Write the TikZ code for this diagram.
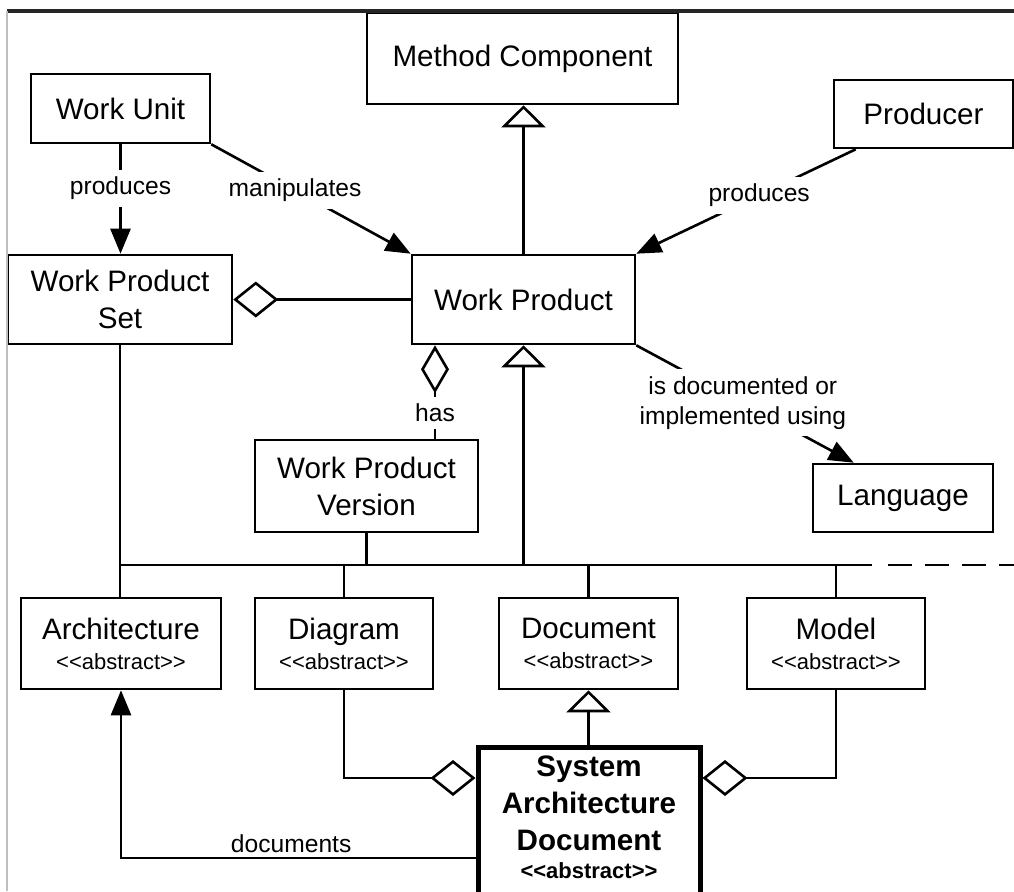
\documentclass[tikz,border=0pt]{standalone}
\usepackage{fontspec}
\setmainfont{Liberation Sans}
\usepackage{tikz}
\usetikzlibrary{positioning}
\usetikzlibrary{arrows.meta}
\tikzstyle{block} = [rectangle, draw, line width=1.3pt, fill=white, align=center,
inner sep=0pt, font=\fontsize{14.8}{18.5}\selectfont]
\tikzstyle{line} = [draw, line width=1.3pt]
\tikzstyle{arr} = [line, -{Triangle[length=12.5pt, width=10pt]}]
\tikzstyle{gen} = [line, -{Triangle[open, length=11pt, width=22pt]}]
\tikzstyle{agg} = [line, -{Diamond[open, length=22.5pt, width=18pt]}]
\tikzstyle{lbl} = [fill=white, inner sep=3.5pt, align=center, font=\fontsize{12.3}{15}\selectfont]
\newcommand{\abst}{{\fontsize{11}{13}\selectfont <{}<abstract>{}>}}

\begin{document}
\begin{tikzpicture}[x=0.5pt, y=-0.5pt]
	\useasboundingbox (0,0) rectangle (1014,891);
	\clip (0,0) rectangle (1014,891);
	
	% Place nodes
	\node [block, minimum width=155.5pt, minimum height=45.5pt] (mc) at (522.5,58.5) {Method Component};
	\node [block, minimum width=89.5pt, minimum height=34.5pt] (wu) at (120.5,108.5) {Work Unit};
	\node [block, minimum width=89.5pt, minimum height=34pt] (prod) at (923.5,114) {Producer};
	\node [block, minimum width=112pt, minimum height=44.5pt] (wps) at (120,299.5) {Work Product\\Set};
	\node [block, minimum width=111.5pt, minimum height=44.5pt, right=88.7pt of wps] (wp) {Work Product};
	\node [block, minimum width=111.5pt, minimum height=46pt] (wpv) at (366.5,486) {Work Product\\Version};
	\node [block, minimum width=90pt, minimum height=34pt] (lang) at (903,498) {Language};
	\node [block, minimum width=100pt, minimum height=45.5pt] (arch) at (121,643.5) {Architecture\\[-3.5pt]\abst};
	\node [block, minimum width=89pt, minimum height=45.5pt, right=15.7pt of arch] (dia) {Diagram\\[-3.5pt]\abst};
	\node [block, minimum width=89.5pt, minimum height=45.5pt, right=31.7pt of dia] (doc) {Document\\[-3.5pt]\abst};
	\node [block, minimum width=89pt, minimum height=45.5pt, right=33.2pt of doc] (model) {Model\\[-3.5pt]\abst};
	\node [block, line width=2.5pt, minimum width=111pt, text height=65.25pt, text depth=13.5pt, anchor=north,
	font=\fontsize{14.8}{18.5}\selectfont\bfseries] (sad) at (589,745)
	{System\\Architecture\\Document\\[-4.5pt]{\fontsize{11}{13}\selectfont <{}<abstract>{}>}};
	
	\coordinate (busy) at (0,565);
	\coordinate (busend) at (872,565);
	\coordinate (dashend) at (1014,565);
	\coordinate (hasx) at (435,0);
	
	%Draw edges
	\path [arr] (wu.south) -- node [lbl, pos=0.4] {produces} (wu.south |- wps.north);
	\path [arr] (wu.south east) -- node [lbl, pos=0.42] {manipulates} (wp.north west);
	\path [arr] ([xshift=11.5pt]prod.south west) -- node [lbl, pos=0.44] {produces} (wp.north east);
	\path [arr] (wp.south east) -- node [lbl, pos=0.49] {is documented or\\implemented using} ([xshift=21pt]lang.north west);
	\path [gen] (wp.north) -- (wp.north |- mc.south);
	\path [agg] (wp.west) -- (wps.east);
	\path [line, -{Diamond[open, length=24pt, width=14pt]}] (hasx |- wpv.north) -- node [lbl, pos=0.28] {has} (hasx |- wp.south);
	
	% the bus
	\path [line] (wps.south) -- (wps.south |- arch.north);
	\path [line] (wps.south |- busy) -- (busend);
	\path [line, dash pattern=on 12pt off 6.5pt] ([xshift=8pt]busend) -- (dashend);
	\path [line] (wpv.south) -- (wpv.south |- busy);
	\path [line] (dia.north) -- (dia.north |- busy);
	\path [line] (doc.north) -- (doc.north |- busy);
	\path [line] (model.north) -- (model.north |- busy);
	\path [gen] (wp.south |- busy) -- (wp.south);
	
	% system architecture document
	\path [gen] (doc.south |- sad.north) -- (doc.south);
	\path [agg] (dia.south) |- ([yshift=-16.5pt]sad.north west);
	\path [agg] (model.south) |- ([yshift=-16.5pt]sad.north east);
	\path [arr] ([yshift=-56.5pt]sad.north west) -| node [lbl, pos=0.26, above, fill=none, inner sep=2pt] {documents} (arch.south);
	
	% frame
	\draw [line width=2pt, black!85] (7,11) -- (1014,11);
	\draw [line width=1pt, black!25] (7,11) -- (7,891);
	
\end{tikzpicture}
\end{document}
